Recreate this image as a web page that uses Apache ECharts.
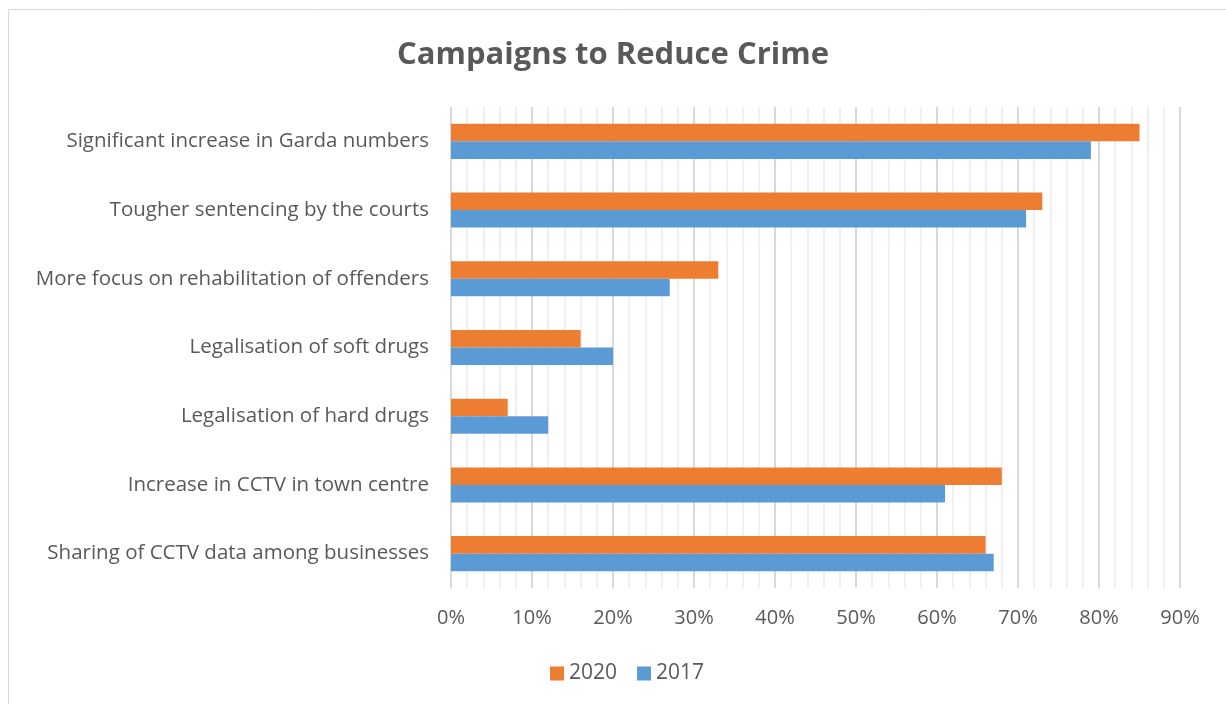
<!DOCTYPE html>
<html>
<head>
<meta charset="utf-8">
<script src="https://cdn.jsdelivr.net/npm/echarts@6/dist/echarts.min.js"></script>
<style>
  html, body { margin: 0; padding: 0; background: #ffffff; }
  #chart { width: 1226px; height: 704px; }
</style>
</head>
<body>
<div id="chart"></div>
<script>
// Campaign categories, listed top to bottom
const categories = [
  'Significant increase in Garda numbers',
  'Tougher sentencing by the courts',
  'More focus on rehabilitation of offenders',
  'Legalisation of soft drugs',
  'Legalisation of hard drugs',
  'Increase in CCTV in town centre',
  'Sharing of CCTV data among businesses'
];

// Share of respondents (%) per survey year
const values2020 = [85, 73, 33, 16, 7, 68, 66];
const values2017 = [79, 71, 27, 20, 12, 61, 67];

const seriesNames = ['2020', '2017'];
const textColor = '#595959';
const fontFamily = '"Open Sans", "Noto Sans", sans-serif';

const chart = echarts.init(document.getElementById('chart'));
chart.setOption({
  animation: false,
  backgroundColor: '#ffffff',
  color: ['#ED7D31', '#5B9BD5'],
  graphic: [{
    type: 'rect',
    shape: { x: 8.5, y: 9.5, width: 1230, height: 700 },
    style: { fill: 'none', stroke: '#d9d9d9', lineWidth: 1 },
    silent: true
  }],
  title: {
    text: 'Campaigns to Reduce Crime',
    left: 'center',
    top: 35,
    textStyle: { color: textColor, fontSize: 31, fontWeight: 'bold', fontFamily: fontFamily }
  },
  legend: {
    data: seriesNames,
    bottom: 15,
    left: 545,
    icon: 'rect',
    itemWidth: 14,
    itemHeight: 14,
    itemGap: 20,
    textStyle: { color: textColor, fontSize: 21, fontFamily: fontFamily }
  },
  grid: { left: 451, right: 46, top: 107, bottom: 116, containLabel: false },
  xAxis: {
    type: 'value',
    min: 0,
    max: 90,
    interval: 10,
    axisLine: { show: false },
    axisTick: { show: false },
    axisLabel: {
      formatter: '{value}%',
      color: textColor,
      fontSize: 20,
      fontFamily: fontFamily,
      margin: 20
    },
    splitLine: { show: true, lineStyle: { color: '#d9d9d9', width: 2 } },
    minorTick: { show: false, splitNumber: 5 },
    minorSplitLine: { show: true, lineStyle: { color: '#f0f0f0', width: 2 } }
  },
  yAxis: {
    type: 'category',
    data: categories,
    inverse: true,
    axisLine: { show: false },
    axisTick: { show: false },
    axisLabel: { color: textColor, fontSize: 20.5, fontFamily: fontFamily, margin: 22 }
  },
  series: [
    {
      name: seriesNames[0],
      type: 'bar',
      data: values2020,
      barGap: '0%',
      barCategoryGap: '49%'
    },
    {
      name: seriesNames[1],
      type: 'bar',
      data: values2017,
      barGap: '0%',
      barCategoryGap: '49%'
    }
  ]
});
</script>
</body>
</html>
